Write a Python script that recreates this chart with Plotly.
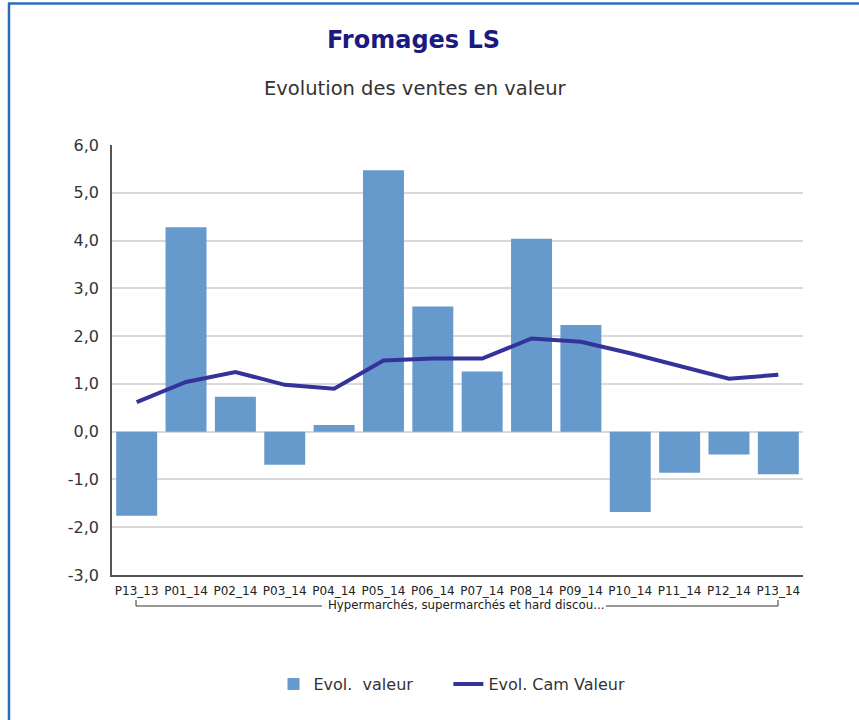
import plotly.graph_objects as go

categories = ["P13_13", "P01_14", "P02_14", "P03_14", "P04_14", "P05_14", "P06_14",
              "P07_14", "P08_14", "P09_14", "P10_14", "P11_14", "P12_14", "P13_14"]
evol_valeur = [-1.76, 4.28, 0.73, -0.69, 0.14, 5.47, 2.62, 1.26, 4.04, 2.23, -1.68, -0.86, -0.48, -0.89]
evol_cam_valeur = [0.62, 1.04, 1.25, 0.98, 0.90, 1.49, 1.53, 1.53, 1.95, 1.88, 1.64, 1.37, 1.11, 1.19]
y_tick_values = [6, 5, 4, 3, 2, 1, 0, -1, -2, -3]
y_tick_labels = ["6,0", "5,0", "4,0", "3,0", "2,0", "1,0", "0,0", "-1,0", "-2,0", "-3,0"]
group_label = "Hypermarchés, supermarchés et hard discou..."
title_text = "Fromages LS"
subtitle_text = "Evolution des ventes en valeur"

W, H = 859, 720
L, R, T, B = 112, 803, 145, 575
pw, ph = R - L, B - T

def px(x):
    return (x - L) / pw

def py(y):
    return (B - y) / ph

fig = go.Figure()
fig.add_trace(go.Bar(
    x=categories, y=evol_valeur, name="Evol.\u00a0\u00a0valeur\u00a0\u00a0\u00a0\u00a0\u00a0\u00a0",
    marker=dict(color="#6699cc", line=dict(width=0)),
))
fig.add_trace(go.Scatter(
    x=categories, y=evol_cam_valeur, name="Evol. Cam Valeur", mode="lines",
    line=dict(color="#333399", width=4),
))

font_main = "DejaVu Sans, Verdana, sans-serif"

fig.update_layout(
    width=W, height=H,
    margin=dict(l=L, r=W - R, t=T, b=H - B),
    paper_bgcolor="white", plot_bgcolor="white",
    bargap=0.17,
    font=dict(family=font_main, color="#333333"),
    showlegend=True,
    legend=dict(orientation="h", x=px(452), xanchor="center", y=py(684), yanchor="middle",
                font=dict(size=16, color="#333333", family=font_main),
                itemwidth=30, tracegroupgap=0),
    xaxis=dict(
        type="category", showgrid=False, zeroline=False,
        showline=True, linecolor="#555555", linewidth=1.5,
        tickfont=dict(size=12, family=font_main, color="#222222"),
        ticks="", tickangle=0, range=[-0.5, len(categories) - 0.5],
        ticklabelstandoff=4,
    ),
    yaxis=dict(
        range=[-3, 6], tickvals=y_tick_values, ticktext=y_tick_labels,
        showgrid=True, gridcolor="#d9d9d9", gridwidth=1.5,
        zeroline=False, showline=True, linecolor="#555555", linewidth=1.5,
        tickfont=dict(size=16, color="#333333", family=font_main), ticks="",
        ticklabelstandoff=8,
    ),
)

shapes = [
    # frame border
    dict(type="line", xref="paper", yref="paper", x0=px(8), x1=px(862), y0=py(3.5), y1=py(3.5),
         line=dict(color="#2a6ebb", width=2.5)),
    dict(type="line", xref="paper", yref="paper", x0=px(9), x1=px(9), y0=py(3), y1=py(722),
         line=dict(color="#2a6ebb", width=2.5)),
    # group bracket
    dict(type="line", xref="paper", yref="paper", x0=px(136), x1=px(322), y0=py(606), y1=py(606),
         line=dict(color="#333333", width=1)),
    dict(type="line", xref="paper", yref="paper", x0=px(606), x1=px(778), y0=py(606), y1=py(606),
         line=dict(color="#333333", width=1)),
    dict(type="line", xref="paper", yref="paper", x0=px(136), x1=px(136), y0=py(600), y1=py(606),
         line=dict(color="#333333", width=1)),
    dict(type="line", xref="paper", yref="paper", x0=px(778), x1=px(778), y0=py(600), y1=py(606),
         line=dict(color="#333333", width=1)),
]

annotations = [
    dict(text="<b>" + title_text + "</b>", xref="paper", yref="paper", x=px(413), y=py(40),
         xanchor="center", yanchor="middle", showarrow=False,
         font=dict(size=24, color="#1a1a80", family=font_main)),
    dict(text=subtitle_text, xref="paper", yref="paper", x=px(415), y=py(89),
         xanchor="center", yanchor="middle", showarrow=False,
         font=dict(size=19.5, color="#333333", family=font_main)),
    dict(text=group_label, xref="paper", yref="paper", x=px(466), y=py(605),
         xanchor="center", yanchor="middle", showarrow=False, borderpad=0,
         font=dict(size=11.8, color="#222222", family=font_main)),
]

fig.update_layout(shapes=shapes, annotations=annotations)
fig.write_html("out.html", config={"displayModeBar": False},
               post_script="document.body.style.margin='0px';document.body.style.overflow='hidden';")
